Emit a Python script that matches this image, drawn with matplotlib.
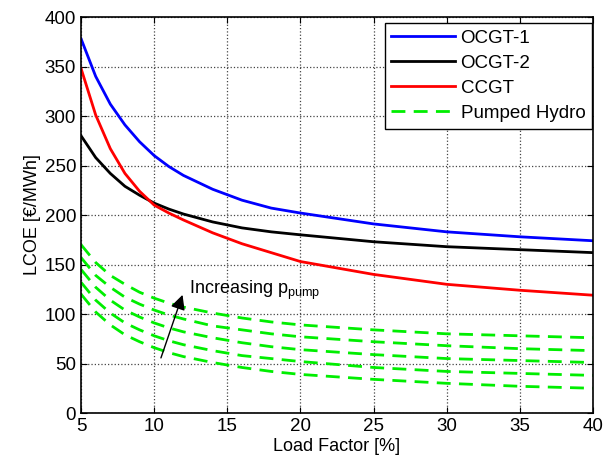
import numpy as np
import matplotlib.pyplot as plt

plt.rcParams['font.family'] = ['Liberation Sans', 'DejaVu Sans']

# load factor [%]
load_factor = [5, 6, 7, 8, 9, 10, 11, 12, 14, 16, 18, 20, 25, 30, 35, 40]

# LCOE [EUR/MWh]
ocgt1 = [378, 340, 312, 291, 274, 260, 249, 240, 226, 215, 207, 202, 191, 183, 178, 174]
ocgt2 = [280, 258, 242, 229, 220, 212, 206, 201, 193, 187, 183, 180, 173, 168, 165, 162]
ccgt = [348, 301, 267, 242, 224, 210, 202, 195, 182, 171, 162, 153, 140, 130, 124, 119]

# pumped hydro, one curve per pump price
hydro = [
    [170, 152, 139, 130, 122, 116, 111, 107, 101, 96, 92, 89, 84, 80, 78, 76],
    [157, 139, 127, 117, 110, 104, 99, 95, 88, 84, 80, 77, 72, 68, 65, 63],
    [145, 127, 114, 104, 97, 91, 86, 82, 76, 71, 67, 64, 59, 55, 53, 51],
    [132, 114, 101, 91, 84, 78, 73, 69, 63, 58, 55, 52, 46, 42, 40, 38],
    [120, 102, 89, 79, 72, 66, 61, 57, 51, 46, 42, 39, 34, 30, 27, 25],
]

fig = plt.figure(figsize=(6.05, 4.66), dpi=100)
ax = fig.add_axes([0.134, 0.1137, 0.846, 0.8498])

ax.plot(load_factor, ocgt1, color='#0000ff', lw=2, label='OCGT-1')
ax.plot(load_factor, ocgt2, color='black', lw=2, label='OCGT-2')
ax.plot(load_factor, ccgt, color='#ff0000', lw=2, label='CCGT')
for i, h in enumerate(hydro):
    ax.plot(load_factor, h, color='#00ee00', lw=2, ls=(0, (5, 3)),
            label='Pumped Hydro' if i == 0 else None)

ax.set_xlim(5, 40)
ax.set_ylim(0, 400)
ax.set_xticks(np.arange(5, 41, 5))
ax.set_yticks(np.arange(0, 401, 50))
ax.grid(True, ls=':', color='#444444', lw=0.9)
ax.tick_params(direction='in', top=True, right=True, labelsize=13.5, length=4)
for s in ax.spines.values():
    s.set_linewidth(1.2)

ax.set_xlabel('Load Factor [%]', fontsize=13, labelpad=2)
ax.set_ylabel('LCOE [€/MWh]', fontsize=13, labelpad=3)

ax.annotate('', xy=(12.0, 122), xytext=(10.4, 53),
            arrowprops=dict(arrowstyle='-|>', color='black', lw=1,
                            mutation_scale=22))
ax.text(12.4, 124, r'Increasing p$_{\mathregular{pump}}$', fontsize=13,
        va='center', ha='left')

leg = ax.legend(loc='upper right', bbox_to_anchor=(0.998, 0.984), fontsize=13.5,
                fancybox=False, edgecolor='black', framealpha=1,
                handlelength=3.4, handletextpad=0.3, borderpad=0.35,
                labelspacing=0.42, borderaxespad=0.0)
leg.get_frame().set_linewidth(1.0)

fig.savefig('out.png', dpi=100)
